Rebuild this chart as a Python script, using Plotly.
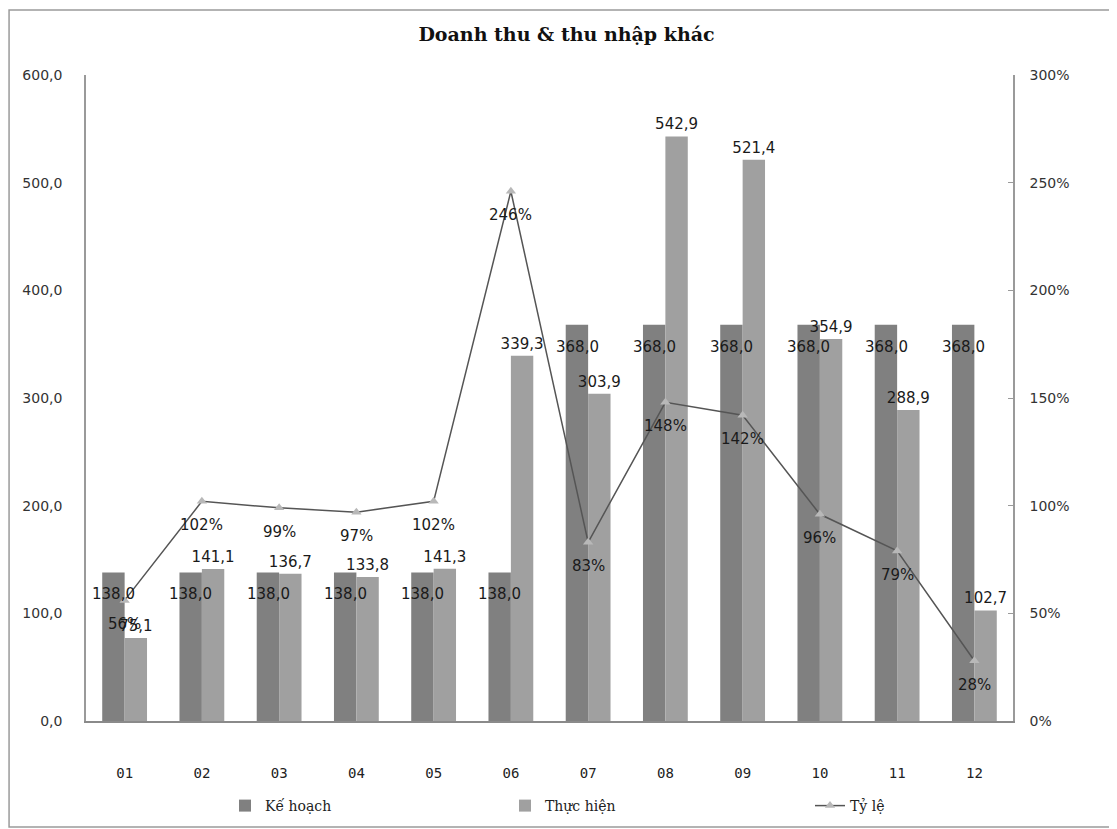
import plotly.graph_objects as go

months = ["01", "02", "03", "04", "05", "06", "07", "08", "09", "10", "11", "12"]
ke_hoach = [138.0, 138.0, 138.0, 138.0, 138.0, 138.0, 368.0, 368.0, 368.0, 368.0, 368.0, 368.0]
thuc_hien = [77.1, 141.1, 136.7, 133.8, 141.3, 339.3, 303.9, 542.9, 521.4, 354.9, 288.9, 102.7]
ty_le = [0.56, 1.02, 0.99, 0.97, 1.02, 2.46, 0.83, 1.48, 1.42, 0.96, 0.79, 0.28]
kh_labels = ["138,0"] * 6 + ["368,0"] * 6
th_labels = ["75,1", "141,1", "136,7", "133,8", "141,3", "339,3", "303,9", "542,9", "521,4", "354,9", "288,9", "102,7"]
tl_labels = ["56%", "102%", "99%", "97%", "102%", "246%", "83%", "148%", "142%", "96%", "79%", "28%"]

label_font = dict(family="DejaVu Sans", size=15, color="#1a1a1a")

fig = go.Figure()
fig.add_trace(go.Bar(
    name="Kế hoạch", x=months, y=ke_hoach,
    marker=dict(color="#808080", line=dict(width=0)),
    legend="legend",
))
fig.add_trace(go.Bar(
    name="Thực hiện", x=months, y=thuc_hien,
    marker=dict(color="#a0a0a0", line=dict(width=0)),
    text=th_labels, textposition="outside",
    textangle=0, constraintext="none", outsidetextfont=label_font,
    cliponaxis=False, legend="legend2",
))
fig.add_trace(go.Scatter(
    name="Tỷ lệ", x=months, y=ty_le, yaxis="y2",
    mode="lines+markers",
    line=dict(color="#555555", width=1.5),
    marker=dict(symbol="triangle-up", size=9, color="#b8b8b8"),
    cliponaxis=False, legend="legend3",
))

annotations = []
for i, (v, t) in enumerate(zip(ke_hoach, kh_labels)):
    annotations.append(dict(x=i, y=v, xref="x", yref="y", text=t, showarrow=False,
                            xshift=-11, yshift=-22, font=label_font))
for i, (v, t) in enumerate(zip(ty_le, tl_labels)):
    annotations.append(dict(x=i, y=v, xref="x", yref="y2", text=t, showarrow=False,
                            yshift=-24, font=label_font))

legend_common = dict(orientation="h", xref="container", yref="container",
                     xanchor="left", yanchor="middle", y=1 - 798 / 829,
                     font=dict(family="DejaVu Serif", size=14, color="#222222"),
                     bgcolor="rgba(0,0,0,0)", itemwidth=30)

fig.update_layout(
    width=1117, height=829,
    paper_bgcolor="white", plot_bgcolor="white",
    margin=dict(l=78, r=112, t=67, b=116, autoexpand=False),
    separators=",.",
    barmode="group", bargap=0.42, bargroupgap=0,
    title=dict(text="<b>Doanh thu &amp; thu nhập khác</b>", x=0.5, xanchor="center",
               y=1 - 26 / 829, yanchor="middle",
               font=dict(family="DejaVu Serif", size=19, color="#111111")),
    xaxis=dict(type="category", range=[-0.5, 11.5],
               showline=True, linecolor="#8a8a8a", linewidth=1.5, ticks="",
               showgrid=False, ticklabelstandoff=38, automargin=False,
               tickfont=dict(family="DejaVu Sans Mono", size=14, color="#222222")),
    yaxis=dict(range=[0, 600], dtick=100, tickformat=".1f", showgrid=False,
               showline=True, linecolor="#9a9a9a", linewidth=1.5, ticks="",
               zeroline=False, ticklabelstandoff=19, automargin=False,
               tickfont=dict(family="DejaVu Sans", size=14, color="#333333")),
    yaxis2=dict(range=[0, 3], dtick=0.5, tickformat=".0%", overlaying="y", side="right",
                showgrid=False, showline=True, linecolor="#9a9a9a", linewidth=1.5,
                ticks="inside", ticklen=5, tickcolor="#9a9a9a", zeroline=False,
                ticklabelstandoff=12, automargin=False,
                tickfont=dict(family="DejaVu Sans", size=14, color="#333333")),
    legend=dict(legend_common, x=217 / 1117),
    legend2=dict(legend_common, x=497 / 1117),
    legend3=dict(legend_common, x=802 / 1117),
    showlegend=True,
    annotations=annotations,
    shapes=[dict(type="rect", xref="paper", yref="paper",
                 x0=-0.083, x1=1.113, y0=-0.164, y1=1.1006,
                 line=dict(color="#9a9a9a", width=1.5), layer="below")],
)

fig.write_html("out.html")
